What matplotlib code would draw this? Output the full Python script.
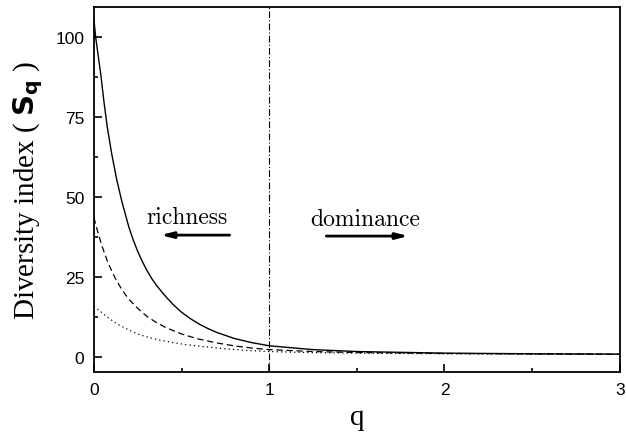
import numpy as np
import matplotlib
matplotlib.use("Agg")
import matplotlib.pyplot as plt
from matplotlib.ticker import MultipleLocator

# values
q_solid = [0, 0.01, 0.025, 0.04, 0.058, 0.076, 0.1, 0.13, 0.16, 0.2, 0.225,
           0.25, 0.275, 0.3, 0.33, 0.36, 0.4, 0.45, 0.5, 0.55, 0.6, 0.65,
           0.7, 0.8, 0.9, 1.0, 1.25, 1.5, 2.0, 2.5, 3.0]
s_solid = [105.5, 100, 94, 88, 79.5, 72, 64, 55.5, 48.5, 40.5, 36.5,
           33, 30, 27.3, 24.5, 22.2, 19.5, 16.5, 14, 12, 10.3, 8.9,
           7.7, 5.8, 4.5, 3.5, 2.3, 1.7, 1.2, 1.0, 0.9]

q_dash = [0, 0.02, 0.044, 0.08, 0.12, 0.16, 0.2, 0.25, 0.3, 0.35, 0.41,
          0.5, 0.59, 0.7, 0.81, 0.9, 1.0, 1.25, 1.5, 2.0, 2.5, 3.0]
s_dash = [43.6, 39.5, 35, 29.5, 24.8, 21, 18, 15.2, 12.8, 11, 9.2,
          7.2, 5.7, 4.4, 3.4, 2.8, 2.3, 1.7, 1.4, 1.1, 0.95, 0.85]

q_dot = [0, 0.03, 0.06, 0.091, 0.12, 0.15, 0.19, 0.224, 0.26, 0.3, 0.37,
         0.45, 0.52, 0.6, 0.74, 0.87, 1.0, 1.25, 1.5, 2.0, 2.5, 3.0]
s_dot = [15.8, 14.6, 13.2, 11.9, 10.8, 9.8, 8.7, 7.8, 7.0, 6.3, 5.3,
         4.5, 3.9, 3.4, 2.6, 2.05, 1.7, 1.35, 1.2, 1.0, 0.9, 0.8]

q_split = 1.0

plt.rcParams['mathtext.fontset'] = 'dejavusans'

fig = plt.figure(figsize=(6.26, 4.35), dpi=100)
ax = fig.add_axes([0.150, 0.1425, 0.840, 0.839])

ax.plot(q_solid, s_solid, color='black', lw=1.0, ls='-')
ax.plot(q_dash, s_dash, color='black', lw=0.9, ls=(0, (5, 3)))
ax.plot(q_dot, s_dot, color='black', lw=0.9, ls=(0, (1, 2.5)))
ax.axvline(q_split, color='black', lw=0.8, ls=(0, (6, 2, 1, 2)))

ax.set_xlim(0, 3)
ax.set_ylim(-4.7, 109.4)
ax.xaxis.set_major_locator(MultipleLocator(1))
ax.xaxis.set_minor_locator(MultipleLocator(0.5))
ax.yaxis.set_major_locator(MultipleLocator(25))
ax.yaxis.set_minor_locator(MultipleLocator(12.5))
ax.tick_params(which='both', direction='in', top=False, right=False,
               width=1.2, labelsize=12.5)
ax.tick_params(which='major', length=6, pad=7)
ax.tick_params(which='minor', length=3)
for lab in ax.get_xticklabels() + ax.get_yticklabels():
    lab.set_family('Liberation Sans')
for sp in ax.spines.values():
    sp.set_linewidth(1.3)

ax.set_xlabel('q', family='Liberation Serif', fontsize=21, labelpad=5)
ax.set_ylabel(r'Diversity index ( $\mathbf{S}_{\mathbf{q}}$ )',
              family='Liberation Serif', fontsize=21, labelpad=7)

ax.text(0.53, 43.7, 'richness', family='cmr10', fontsize=17,
        ha='center', va='center')
ax.text(1.55, 43.2, 'dominance', family='cmr10', fontsize=17,
        ha='center', va='center')
ax.annotate('', xy=(0.365, 38.1), xytext=(0.79, 38.1),
            arrowprops=dict(arrowstyle='-|>,head_length=0.7,head_width=0.18',
                            color='black', lw=2))
ax.annotate('', xy=(1.81, 37.8), xytext=(1.31, 37.8),
            arrowprops=dict(arrowstyle='-|>,head_length=0.7,head_width=0.18',
                            color='black', lw=2))

fig.savefig('out.png', dpi=100)
